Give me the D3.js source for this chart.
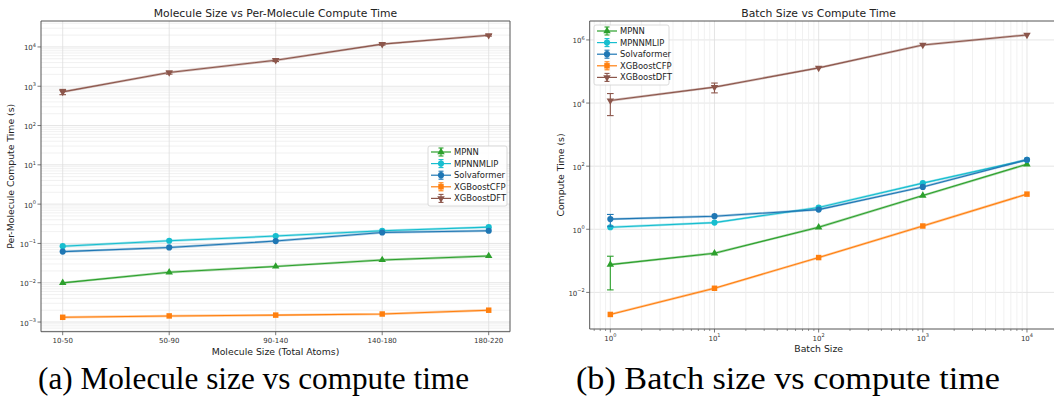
<!DOCTYPE html>
<html>
<head>
<meta charset="utf-8">
<script src="https://cdn.jsdelivr.net/npm/d3@7"></script>
<style>
  body { margin: 0; background: #fff; }
  svg { display: block; font-family: "DejaVu Sans", sans-serif; }
</style>
</head>
<body>
<svg id="chart" width="1054" height="396"></svg>
<script>
// series names + colours (matplotlib tab10)
const seriesNames = ['MPNN', 'MPNNMLIP', 'Solvaformer', 'XGBoostCFP', 'XGBoostDFT'];
const seriesColors = ['#2ca02c', '#17becf', '#1f77b4', '#ff7f0e', '#8c564b'];
const seriesMarkers = ['triUp', 'circle', 'circle', 'square', 'triDown'];

// (a) molecule size bins
const sizeBins = ['10-50', '50-90', '90-140', '140-180', '180-220'];
const sizeMPNN = [0.0099, 0.0185, 0.026, 0.038, 0.048];
const sizeMPNNMLIP = [0.085, 0.117, 0.154, 0.21, 0.26];
const sizeSolvaformer = [0.062, 0.079, 0.115, 0.19, 0.21];
const sizeXGBoostCFP = [0.00132, 0.00143, 0.0015, 0.0016, 0.002];
const sizeXGBoostDFT = [720, 2230, 4600, 11800, 19800];
const sizeStdXGBoostDFT = [110, 200, 350, 700, 900];

// (b) batch size
const batchSizes = [1, 10, 100, 1000, 10000];
const batchMPNN = [0.076, 0.174, 1.16, 11.7, 115];
const batchMPNNMLIP = [1.16, 1.63, 4.9, 29, 158];
const batchSolvaformer = [2.1, 2.6, 4.2, 22, 160];
const batchXGBoostCFP = [0.002, 0.0135, 0.127, 1.27, 13];
const batchXGBoostDFT = [12000, 32000, 130000, 690000, 1440000];
const batchStdMPNN = [0.064, 0, 0, 0, 0];
const batchStdSolvaformer = [0.85, 0, 0, 0, 0];
const batchStdXGBoostDFT = [8000, 11000, 0, 0, 0];

// log tick labels
const leftYTicks = [-3, -2, -1, 0, 1, 2, 3, 4];
const rightYTicks = [-2, 0, 2, 4, 6];
const rightXTicks = [0, 1, 2, 3, 4];

const svg = d3.select('#chart');

function markerPath(kind) {
  if (kind === 'triUp' || kind === 'triDown') return d3.symbol(d3.symbolTriangle, 24)();
  if (kind === 'square') return d3.symbol(d3.symbolSquare, 30)();
  return d3.symbol(d3.symbolCircle, 30)();
}

function powLabel(sel, e) {
  sel.append('tspan').text('10');
  sel.append('tspan').attr('dy', -3.5).style('font-size', '5px')
    .text(e < 0 ? '\u2212' + Math.abs(e) : e);
}

function drawPanel(p) {
  const g = svg.append('g');
  const [xl, xr] = p.x.range();
  const [yb, yt] = p.y.range();
  const clipRight = p.frameRight || xr;

  // grid
  const grid = g.append('g');
  p.hGrid.forEach(d => grid.append('line')
    .attr('x1', xl).attr('x2', clipRight).attr('y1', p.y(d.v)).attr('y2', p.y(d.v))
    .attr('stroke', d.minor ? '#ededed' : '#dedede').attr('stroke-width', 0.8));
  p.vGrid.forEach(d => grid.append('line')
    .attr('y1', yt).attr('y2', yb).attr('x1', p.xPos(d.v)).attr('x2', p.xPos(d.v))
    .attr('stroke', d.minor ? '#ededed' : '#dedede').attr('stroke-width', 0.8));

  // series
  p.series.forEach((s, i) => {
    const color = seriesColors[i];
    const pts = s.values.map((v, j) => ({ x: p.xPos(p.xs[j]), v: v, sd: s.std ? s.std[j] : 0 }));
    const line = d3.line().x(d => d.x).y(d => p.y(d.v));
    g.append('path').datum(pts).attr('d', line).attr('fill', 'none')
      .attr('stroke', color).attr('stroke-width', 2.4).attr('opacity', 0.4);
    g.append('path').datum(pts).attr('d', line).attr('fill', 'none')
      .attr('stroke', color).attr('stroke-width', 1.1);
    pts.filter(d => d.sd > 0).forEach(d => {
      const y1 = p.y(d.v + d.sd), y0 = p.y(Math.max(d.v - d.sd, 1e-9));
      g.append('line').attr('x1', d.x).attr('x2', d.x).attr('y1', y1).attr('y2', y0)
        .attr('stroke', color).attr('stroke-width', 1.1);
      [y1, y0].forEach(yy => g.append('line').attr('x1', d.x - 3.3).attr('x2', d.x + 3.3)
        .attr('y1', yy).attr('y2', yy).attr('stroke', color).attr('stroke-width', 1.1));
    });
    g.selectAll(null).data(pts).enter().append('path')
      .attr('d', markerPath(seriesMarkers[i]))
      .attr('transform', d => 'translate(' + d.x + ',' + p.y(d.v) + ')' +
        (seriesMarkers[i] === 'triDown' ? 'rotate(180)' : ''))
      .attr('fill', color);
  });

  // frame
  const frame = g.append('g').attr('stroke', '#555').attr('stroke-width', 1);
  frame.append('line').attr('x1', xl).attr('x2', xl).attr('y1', yt).attr('y2', yb);
  frame.append('line').attr('x1', xl).attr('x2', clipRight).attr('y1', yt).attr('y2', yt);
  frame.append('line').attr('x1', xl).attr('x2', clipRight).attr('y1', yb).attr('y2', yb);
  if (!p.frameRight) frame.append('line').attr('x1', xr).attr('x2', xr).attr('y1', yt).attr('y2', yb);

  // y ticks
  p.yTicks.forEach(e => {
    const yy = p.y(Math.pow(10, e));
    g.append('line').attr('x1', xl - 3.5).attr('x2', xl).attr('y1', yy).attr('y2', yy)
      .attr('stroke', '#555').attr('stroke-width', 0.8);
    const t = g.append('text').attr('x', xl - 5).attr('y', yy + 3.5)
      .attr('text-anchor', 'end').style('font-size', '7px').attr('fill', '#333');
    powLabel(t, e);
  });
  // x ticks
  p.xTickList.forEach(tk => {
    const xx = p.xPos(tk.v);
    g.append('line').attr('x1', xx).attr('x2', xx).attr('y1', yb).attr('y2', yb + 3.5)
      .attr('stroke', '#555').attr('stroke-width', 0.8);
    const t = g.append('text').attr('x', xx).attr('y', yb + 11.5)
      .attr('text-anchor', 'middle').style('font-size', '7px').attr('fill', '#333');
    if (tk.pow !== undefined) powLabel(t, tk.pow); else t.text(tk.label);
  });
  if (p.xMinorTicks) p.xMinorTicks.forEach(v => g.append('line')
    .attr('x1', p.xPos(v)).attr('x2', p.xPos(v)).attr('y1', yb).attr('y2', yb + 2)
    .attr('stroke', '#555').attr('stroke-width', 0.6));

  // labels
  const cx = (xl + xr) / 2;
  g.append('text').attr('x', cx).attr('y', 17).attr('text-anchor', 'middle')
    .style('font-size', '10.8px').attr('fill', '#222').text(p.title);
  g.append('text').attr('x', cx).attr('y', yb + 23).attr('text-anchor', 'middle')
    .style('font-size', '9.3px').attr('fill', '#222').text(p.xLabel);
  g.append('text').attr('transform', 'translate(' + p.yLabelX + ',' + ((yt + yb) / 2) + ')rotate(-90)')
    .attr('text-anchor', 'middle').style('font-size', '9.3px').attr('fill', '#222').text(p.yLabel);

  // legend
  const L = p.legend;
  const lg = g.append('g').attr('transform', 'translate(' + L.x + ',' + L.y + ')');
  lg.append('rect').attr('width', L.w).attr('height', 60).attr('rx', 2)
    .attr('fill', '#fff').attr('fill-opacity', 0.85).attr('stroke', '#d0d0d0').attr('stroke-width', 0.8);
  seriesNames.forEach((name, i) => {
    const yy = 6 + i * 11.6;
    const c = seriesColors[i];
    lg.append('line').attr('x1', 3).attr('x2', 23).attr('y1', yy).attr('y2', yy)
      .attr('stroke', c).attr('stroke-width', 1.2);
    lg.append('line').attr('x1', 13).attr('x2', 13).attr('y1', yy - 4).attr('y2', yy + 4)
      .attr('stroke', c).attr('stroke-width', 1.1);
    [yy - 4, yy + 4].forEach(v => lg.append('line').attr('x1', 10.5).attr('x2', 15.5)
      .attr('y1', v).attr('y2', v).attr('stroke', c).attr('stroke-width', 1.1));
    lg.append('path').attr('d', markerPath(seriesMarkers[i]))
      .attr('transform', 'translate(13,' + yy + ')' + (seriesMarkers[i] === 'triDown' ? 'rotate(180)' : ''))
      .attr('fill', c);
    lg.append('text').attr('x', 26).attr('y', yy + 3).style('font-size', '8.4px')
      .attr('fill', '#222').text(name);
  });
}

// minor grid values for a log range
function logGrid(lo, hi, withMinor) {
  const out = [];
  for (let e = lo; e <= hi; e++) {
    out.push({ v: Math.pow(10, e), minor: false });
    if (withMinor) for (let k = 2; k <= 9; k++) out.push({ v: k * Math.pow(10, e), minor: true });
  }
  return out;
}

// (a) panel
const xA = d3.scalePoint().domain(sizeBins).range([62.7, 488.7]);
const yA = d3.scaleLog().domain([Math.pow(10, -3.246), Math.pow(10, 4.66)]).range([331.7, 21]);
const xAfull = d3.scaleLinear().range([41, 510]);
drawPanel({
  x: xAfull, xPos: v => xA(v), y: yA, xs: sizeBins,
  title: 'Molecule Size vs Per-Molecule Compute Time',
  xLabel: 'Molecule Size (Total Atoms)', yLabel: 'Per-Molecule Compute Time (s)', yLabelX: 14,
  series: [
    { values: sizeMPNN }, { values: sizeMPNNMLIP }, { values: sizeSolvaformer },
    { values: sizeXGBoostCFP }, { values: sizeXGBoostDFT, std: sizeStdXGBoostDFT }
  ],
  hGrid: logGrid(-4, 4, true).filter(d => d.v >= yA.domain()[0] && d.v <= yA.domain()[1]),
  vGrid: sizeBins.map(b => ({ v: b, minor: false })),
  yTicks: leftYTicks,
  xTickList: sizeBins.map(b => ({ v: b, label: b })),
  legend: { x: 428, y: 146, w: 79 }
});

// (b) panel
const xB = d3.scaleLog().domain([Math.pow(10, -0.198), Math.pow(10, 4.198)]).range([589.7, 1047.6]);
const yB = d3.scaleLog().domain([Math.pow(10, -3.16), Math.pow(10, 6.6)]).range([329, 21]);
const xBminor = logGrid(-1, 4, true).filter(d => d.v >= xB.domain()[0] && d.v <= 17000);
drawPanel({
  x: xB, xPos: v => xB(v), y: yB, xs: batchSizes, frameRight: 1056,
  title: 'Batch Size vs Compute Time',
  xLabel: 'Batch Size', yLabel: 'Compute Time (s)', yLabelX: 564,
  series: [
    { values: batchMPNN, std: batchStdMPNN }, { values: batchMPNNMLIP },
    { values: batchSolvaformer, std: batchStdSolvaformer },
    { values: batchXGBoostCFP }, { values: batchXGBoostDFT, std: batchStdXGBoostDFT }
  ],
  hGrid: rightYTicks.map(e => ({ v: Math.pow(10, e), minor: false })),
  vGrid: xBminor,
  yTicks: rightYTicks,
  xTickList: rightXTicks.map(e => ({ v: Math.pow(10, e), pow: e })),
  xMinorTicks: xBminor.filter(d => d.minor).map(d => d.v),
  legend: { x: 594, y: 25, w: 75 }
});

// captions
svg.append('text').attr('x', 38).attr('y', 389)
  .attr('textLength', 431).attr('lengthAdjust', 'spacingAndGlyphs')
  .style('font-family', '"Liberation Serif", serif').style('font-size', '32px')
  .text('(a) Molecule size vs compute time');
svg.append('text').attr('x', 576).attr('y', 389)
  .attr('textLength', 424).attr('lengthAdjust', 'spacingAndGlyphs')
  .style('font-family', '"Liberation Serif", serif').style('font-size', '32px')
  .text('(b) Batch size vs compute time');
</script>
</body>
</html>
